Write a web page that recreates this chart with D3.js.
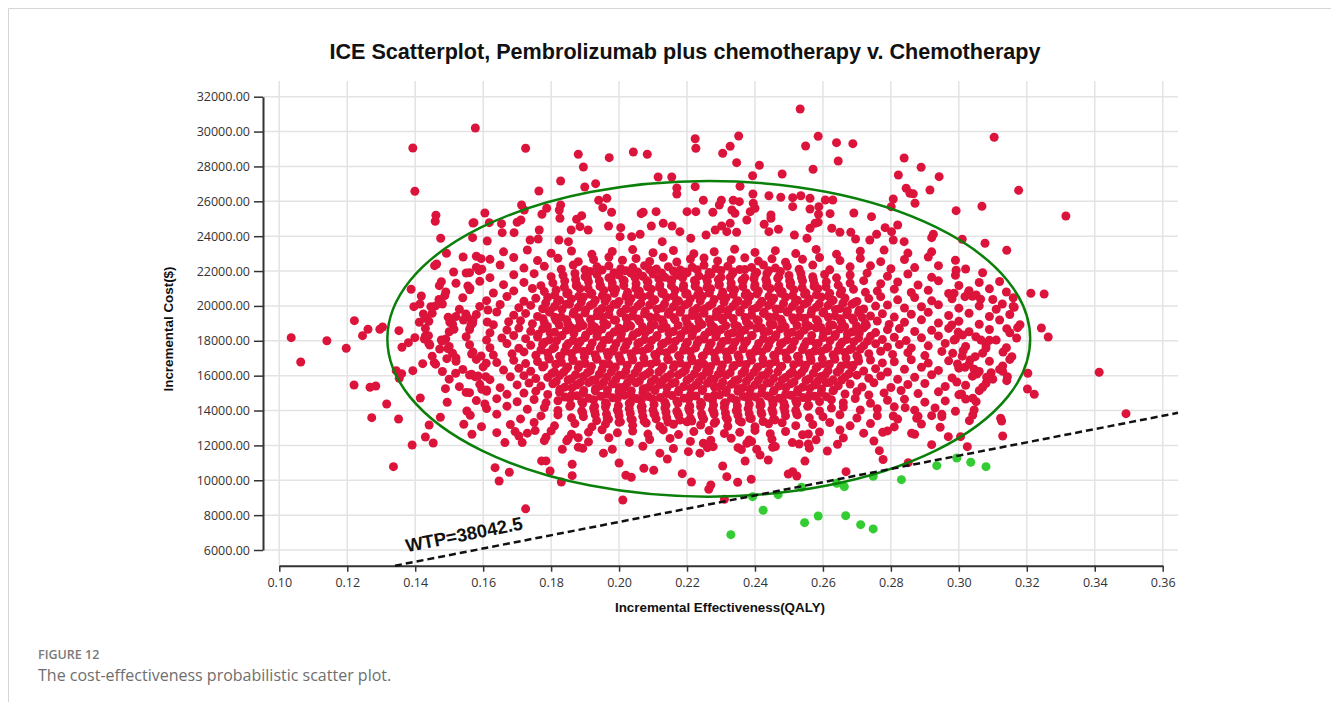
<!DOCTYPE html>
<html>
<head>
<meta charset="utf-8">
<script src="https://cdn.jsdelivr.net/npm/d3@7"></script>
<style>
  body { margin: 0; background: #fff; }
  svg { display: block; }
</style>
</head>
<body>
<svg width="1331" height="702"></svg>
<script>
(function (d3) {
  'use strict';

// ---- data ----------------------------------------------------------------
const xTicks = [0.10, 0.12, 0.14, 0.16, 0.18, 0.20, 0.22, 0.24, 0.26, 0.28, 0.30, 0.32, 0.34, 0.36];
const yTicks = [6000, 8000, 10000, 12000, 14000, 16000, 18000, 20000, 22000, 24000, 26000, 28000, 30000, 32000];
const wtp = 38042.5;

// 95% ellipse drawn round the cloud (effect, cost)
const ellipseCenter = [0.2264, 18113];
const ellipseRadius = [0.0946, 9052];

// iterations below the WTP line (cost-effective) [effect, cost]
const greenPoints = [
  [.2329,6880],[.2424,8280],[.2393,9060],[.2468,9175],[.2537,9600],[.2546,7570],[.2586,7953],
  [.2667,7970],[.2711,7455],[.2748,7208],[.2641,9830],[.2663,9635],[.2748,10230],[.2831,10035],
  [.2935,10838],[.2994,11280],[.3035,11033],[.3080,10780]
];

// scattered iterations at the edge of the cloud [effect, cost]
const redSparse = [
  [.1577,30205],[.1393,29058],[.1399,26575],[.1461,25198],[.1459,24854],[.1570,24757],[.1605,25330],[.1475,23879],
  [.1569,23914],[.1612,23724],[.1492,23019],[.1541,22807],[.1580,22847],[.1594,22709],[.1457,22308],[.1463,22405],
  [.1513,21947],[.1560,21906],[.1588,22021],[.1596,22101],[.1477,21390],[.1471,21161],[.1555,21144],[.1561,21012],
  [.1388,20954],[.1418,20570],[.1487,20587],[.1396,19956],[.1414,20111],[.1446,19956],[.1473,20301],[.1480,20111],
  [.1424,19538],[.1430,19308],[.1412,19062],[.1497,19348],[.1502,19062],[.1514,18660],[.1549,19538],[.1553,19348],
  [.1542,19194],[.1564,18907],[.1569,19004],[.1614,19767],[.1612,19079],[.1221,19154],[.1261,18660],[.1245,18293],
  [.1296,18660],[.1304,18792],[.1352,18580],[.1035,18178],[.1140,18000],[.1399,18178],[.1439,18293],[.1477,18047],
  [.1197,17571],[.1063,16785],[.1361,17628],[.1380,17892],[.1427,18104],[.1443,17759],[.1479,17989],[.1472,17530],
  [.1496,17548],[.1493,16974],[.1520,17014],[.1422,16688],[.1456,16745],[.1393,16286],[.1344,16286],[.1360,16114],
  [.1353,15850],[.1519,16137],[.1566,17244],[.1594,17129],[.1220,15466],[.1267,15334],[.1284,15409],[.1316,14377],
  [.1272,13591],[.1351,13516],[.1336,10781],[.1415,14721],[.1489,15254],[.1494,14474],[.1474,13614],[.1441,13172],
  [.1430,12484],[.1391,12025],[.1453,12140],[.1560,15025],[.1552,13975],[.1562,13728],[.1543,13212],[.1567,12639],
  [.1595,13075],[.1605,14377],[.1596,15219],[.1610,15179],[.1566,16079],[.1585,15982],[.1608,15942],[.1576,15942],
  [.1609,16711],
  [.1725,29041],[.1880,28697],[.1895,27968],[.1971,28502],[.2042,28829],[.2083,28697],[.2224,29591],[.2226,29041],
  [.2352,29746],[.2327,29155],[.2305,28754],[.2346,28215],[.2413,28066],[.2393,27469],[.1828,27165],[.1764,26592],
  [.1899,26821],[.1931,27011],[.2115,27395],[.2155,27395],[.2170,26764],[.2170,26420],[.2224,26839],[.2356,26861],
  [.2394,26420],[.1713,25789],[.1721,25502],[.1787,25600],[.1828,25789],[.1824,25502],[.1940,26060],[.1964,26173],
  [.1952,25635],[.1978,25370],[.2248,26060],[.2301,26060],[.2336,26060],[.2354,25980],[.2395,25887],[.2400,25600],
  [.1573,24775],[.1618,24775],[.1654,24717],[.1656,24200],[.1691,24200],[.1700,24796],[.1711,24929],[.1765,24356],
  [.1773,25256],[.1826,25025],[.1875,24968],[.1890,25175],[.1885,24545],[.1859,24356],[.1909,24356],[.1969,24585],
  [.2005,24487],[.2065,25290],[.2071,25370],[.2095,24585],[.2109,25405],[.2130,24740],[.2156,24585],[.2200,25405],
  [.2226,25405],[.2276,25370],[.2295,25789],[.2302,24585],[.2283,24356],[.2327,24740],[.2332,25502],[.2341,25313],
  [.2376,24929],[.2386,25405],[.2427,24682],[.2179,24258],[.2003,23971],[.2037,23971],[.2062,24111],[.2127,23684],
  [.2211,23880],[.2256,24069],[.2317,24258],[.2346,24224],[.1738,23780],[.1762,23838],[.1823,23780],[.1851,23685],
  [.2533,31296],[.2586,29729],[.2549,29173],[.2640,29362],[.2688,29306],[.3104,29672],[.2571,27836],[.2645,28312],
  [.2480,27567],[.2839,28485],[.2889,27951],[.2942,27412],[.2822,27510],[.2845,26747],[.2856,26460],[.2866,26430],
  [.2915,26649],[.2871,25886],[.2807,26133],[.2801,25692],[.3176,26630],[.2992,25462],[.3068,25715],[.2441,26322],
  [.2476,26231],[.2511,26208],[.2535,26322],[.2562,26173],[.2607,26076],[.2629,26076],[.2511,25692],[.2562,25560],
  [.2588,25692],[.2587,25256],[.2621,25290],[.2691,25330],[.2743,25118],[.2447,25216],[.2447,25030],[.2469,24395],
  [.2441,24258],[.2516,24069],[.2562,24452],[.2577,24740],[.2586,24796],[.2626,24452],[.2650,24224],[.2682,24224],
  [.2696,23838],[.2758,24111],[.2783,24487],[.2802,24258],[.2820,24642],[.2738,23780],[.2807,23780],[.2839,23684],
  [.2925,24111],[.2920,23914],[.3010,23822],[.3077,23592],[.2553,23880],[.3315,25158],
  [.3141,23191],[.2992,22044],[.2986,20725],[.3018,20530],[.3028,20765],[.3051,20627],[.3064,20381],[.3128,20111],
  [.3163,19923],[.3212,20725],[.3251,20685],[.3141,18695],[.3173,18752],[.3243,18734],[.3263,18220],[.2979,18907],
  [.2998,18488],[.3011,18333],[.2986,18047],[.3065,18047],[.3090,18028],[.3080,17588],[.2982,17284],[.3013,17434],
  [.3048,17090],[.3033,16900],[.3156,17090],[.2996,16670],[.3018,16481],[.3045,16367],[.3053,16097],[.3095,16171],
  [.3082,15907],[.3129,16556],[.3129,16251],[.3143,15942],[.3141,15713],[.3203,16137],[.3413,16194],[.2994,15638],
  [.3070,15334],[.3202,15237],[.3222,14933],[.3008,14950],[.3041,14704],[.3051,14508],[.3045,14032],[.3041,13746],
  [.3031,13419],[.3123,13556],[.3126,13401],[.3129,12540],[.3005,12502],[.3025,11928],[.3492,13820],
  [.2011,8871],[.2310,8910],[.2270,9730],[.2264,9485],[.2213,9903],[.2317,10207],[.2349,9885],[.2389,10058],
  [.2305,10820],[.2186,10380],[.2102,10575],[.2073,10690],[.2036,10173],[.2020,10288],[.2000,10993],[.1862,10265],
  [.1862,10920],[.1830,9903],[.2498,10362],[.2511,10495],[.2523,10247],[.2668,10495],[.2851,11010],[.2777,11190],
  [.2766,11698],[.2547,11100],[.2439,11165],[.2415,11452],[.2371,11107],[.2383,12312],[.2405,11779],[.2452,11893],
  [.2530,12083],[.2557,12083],[.2613,11680],[.2643,12065],[.2920,12042],[.2969,12502],[.2861,12696],[.2876,13556],
  [.2920,13705],[.2950,13648],[.2842,14163],[.2807,13688],[.2776,12753],[.1954,11555],[.2248,12121],[.2238,11555],
  [.2142,11220],[.2120,11555],[.2204,11641],[.2277,11928],[.2350,11870],[.2376,12121],[.2557,12656],[.2945,13040],
  [.1635,10723],[.1647,9960],[.1677,10460],[.1664,12160],[.1640,12730],[.1694,12790],[.1705,12540],[.1715,12160],
  [.1772,11110],[.1785,11110],[.1797,10530],[.1785,12470],[.1753,12850],[.1833,11780],[.1846,12260],[.1880,12440],
  [.1893,11830],[.1725,8360]
];

// the body of the cloud, one band of cost at a time: effects and matching costs
const cloudEffect = [
  [.166,.173,.180,.186,.192,.198,.204,.210,.216,.222,.228,.234,.240,.246,.252,.258,.264,.271,.278,.285,.292],
  [.162,.169,.176,.182,.188,.1925,.197,.201,.205,.209,.213,.217,.221,.225,.229,.233,.237,.241,.245,.249,.254,.259,.265,.271,.277,.284,.291,.299],
  [.158,.165,.172,.178,.183,.1865,.190,.1935,.197,.2005,.204,.2075,.211,.2145,.218,.2215,.225,.2285,.232,.2355,.239,.2425,.246,.2495,.253,.257,.262,.268,.274,.280,.287,.294,.302],
  [.155,.162,.169,.175,.180,.1835,.187,.190,.1935,.197,.200,.2035,.207,.210,.2135,.217,.220,.2235,.227,.230,.2335,.237,.240,.2435,.247,.250,.2535,.257,.2605,.264,.268,.273,.279,.285,.292,.299,.307],
  [.152,.159,.166,.172,.177,.1805,.184,.1875,.191,.1945,.198,.2015,.205,.2085,.212,.2155,.219,.2225,.226,.2295,.233,.2365,.240,.2435,.247,.2505,.254,.2575,.261,.2645,.268,.272,.277,.282,.288,.294,.300,.306,.312],
  [.149,.156,.163,.169,.1745,.178,.1815,.185,.1885,.192,.1955,.199,.2025,.206,.2095,.213,.2165,.220,.2235,.227,.2305,.234,.2375,.241,.2445,.248,.2515,.255,.2585,.262,.2655,.269,.2725,.276,.281,.286,.291,.297,.303,.309,.314],
  [.147,.154,.161,.167,.172,.1755,.179,.1825,.186,.1895,.193,.1965,.200,.2035,.207,.2105,.214,.2175,.221,.2245,.228,.2315,.235,.2385,.242,.2455,.249,.2525,.256,.2595,.263,.2665,.270,.2735,.277,.282,.287,.292,.298,.304,.310,.316],
  [.146,.153,.159,.165,.1705,.174,.1775,.181,.1845,.188,.1915,.195,.1985,.202,.2055,.209,.2125,.216,.2195,.223,.2265,.230,.2335,.237,.2405,.244,.2475,.251,.2545,.258,.2615,.265,.2685,.272,.2755,.279,.284,.289,.294,.300,.306,.311,.316],
  [.145,.152,.158,.164,.169,.1725,.176,.1795,.183,.1865,.190,.1935,.197,.2005,.204,.2075,.211,.2145,.218,.2215,.225,.2285,.232,.2355,.239,.2425,.246,.2495,.253,.2565,.260,.2635,.267,.2705,.274,.2775,.281,.286,.291,.297,.303,.309,.315],
  [.144,.151,.157,.163,.1675,.171,.1745,.178,.1815,.185,.1885,.192,.1955,.199,.2025,.206,.2095,.213,.2165,.220,.2235,.227,.2305,.234,.2375,.241,.2445,.248,.2515,.255,.2585,.262,.2655,.269,.2725,.276,.2795,.284,.289,.294,.300,.306,.312,.318],
  [.143,.150,.156,.162,.167,.1705,.174,.1775,.181,.1845,.188,.1915,.195,.1985,.202,.2055,.209,.2125,.216,.2195,.223,.2265,.230,.2335,.237,.2405,.244,.2475,.251,.2545,.258,.2615,.265,.2685,.272,.2755,.279,.2825,.287,.292,.297,.303,.309,.315],
  [.143,.149,.155,.161,.1655,.169,.1725,.176,.1795,.183,.1865,.190,.1935,.197,.2005,.204,.2075,.211,.2145,.218,.2215,.225,.2285,.232,.2355,.239,.2425,.246,.2495,.253,.2565,.260,.2635,.267,.2705,.274,.2775,.281,.2845,.289,.294,.299,.305,.311,.317],
  [.144,.150,.156,.162,.167,.1705,.174,.1775,.181,.1845,.188,.1915,.195,.1985,.202,.2055,.209,.2125,.216,.2195,.223,.2265,.230,.2335,.237,.2405,.244,.2475,.251,.2545,.258,.2615,.265,.2685,.272,.2755,.279,.2825,.286,.291,.296,.302,.308,.314],
  [.145,.151,.157,.163,.1685,.172,.1755,.179,.1825,.186,.1895,.193,.1965,.200,.2035,.207,.2105,.214,.2175,.221,.2245,.228,.2315,.235,.2385,.242,.2455,.249,.2525,.256,.2595,.263,.2665,.270,.2735,.277,.2805,.285,.290,.295,.301,.307,.313],
  [.146,.152,.158,.164,.169,.1725,.176,.1795,.183,.1865,.190,.1935,.197,.2005,.204,.2075,.211,.2145,.218,.2215,.225,.2285,.232,.2355,.239,.2425,.246,.2495,.253,.2565,.260,.2635,.267,.2705,.274,.2775,.281,.286,.291,.297,.303,.309,.315],
  [.148,.154,.160,.166,.1705,.174,.1775,.181,.1845,.188,.1915,.195,.1985,.202,.2055,.209,.2125,.216,.2195,.223,.2265,.230,.2335,.237,.2405,.244,.2475,.251,.2545,.258,.2615,.265,.2685,.272,.2755,.279,.284,.289,.294,.300,.306,.312],
  [.150,.156,.162,.168,.172,.1755,.179,.1825,.186,.1895,.193,.1965,.200,.2035,.207,.2105,.214,.2175,.221,.2245,.228,.2315,.235,.2385,.242,.2455,.249,.2525,.256,.2595,.263,.2665,.270,.2735,.277,.282,.287,.292,.298,.304,.310],
  [.153,.159,.165,.170,.1735,.177,.1805,.184,.1875,.191,.1945,.198,.2015,.205,.2085,.212,.2155,.219,.2225,.226,.2295,.233,.2365,.240,.2435,.247,.2505,.254,.2575,.261,.2645,.268,.2715,.275,.280,.285,.290,.296,.302,.308],
  [.155,.161,.167,.172,.1755,.179,.1825,.186,.1895,.193,.1965,.200,.2035,.207,.2105,.214,.2175,.221,.2245,.228,.2315,.235,.2385,.242,.2455,.249,.2525,.256,.2595,.263,.2665,.270,.2735,.278,.283,.288,.294,.300,.306],
  [.158,.164,.170,.175,.1785,.182,.1855,.189,.1925,.196,.1995,.203,.2065,.210,.2135,.217,.2205,.224,.2275,.231,.2345,.238,.2415,.245,.2485,.252,.2555,.259,.2625,.266,.2695,.274,.279,.284,.290,.296,.302],
  [.161,.167,.173,.178,.182,.1855,.189,.1925,.196,.1995,.203,.2065,.210,.2135,.217,.2205,.224,.2275,.231,.2345,.238,.2415,.245,.2485,.252,.2555,.259,.2625,.266,.271,.276,.281,.287,.293,.299],
  [.164,.171,.177,.182,.186,.1895,.193,.1965,.200,.2035,.207,.2105,.214,.2175,.221,.2245,.228,.2315,.235,.2385,.242,.2455,.249,.2525,.256,.260,.265,.270,.276,.282,.288,.295],
  [.168,.175,.181,.187,.192,.196,.200,.204,.208,.212,.216,.220,.224,.228,.232,.236,.240,.244,.248,.252,.257,.262,.268,.274,.281,.289],
  [.173,.180,.186,.191,.195,.1995,.204,.2085,.213,.2175,.222,.2265,.231,.2355,.240,.2445,.249,.254,.259,.265,.272,.279,.287],
  [.178,.185,.191,.197,.203,.209,.215,.221,.227,.233,.239,.245,.251,.258,.266,.275],
  [.188,.198,.207,.216,.226,.236,.246,.256]
];
const cloudCost = [
  [23100,23210,23020,23150,22960,23120,23230,23050,23180,22990,23110,23250,23070,23170,23000,23240,22970,23140,23200,23030,23100],
  [22670,22780,22600,22730,22540,22660,22800,22620,22720,22550,22790,22520,22690,22750,22580,22650,22760,22570,22700,22510,22670,22780,22600,22730,22540,22660,22800,22620],
  [22210,22350,22170,22270,22100,22340,22070,22240,22300,22130,22200,22310,22120,22250,22060,22220,22330,22150,22280,22090,22210,22350,22170,22270,22100,22340,22070,22240,22300,22130,22200,22310,22120],
  [21890,21620,21790,21850,21680,21750,21860,21670,21800,21610,21770,21880,21700,21830,21640,21760,21900,21720,21820,21650,21890,21620,21790,21850,21680,21750,21860,21670,21800,21610,21770,21880,21700,21830,21640,21760,21900],
  [21300,21410,21220,21350,21160,21320,21430,21250,21380,21190,21310,21450,21270,21370,21200,21440,21170,21340,21400,21230,21300,21410,21220,21350,21160,21320,21430,21250,21380,21190,21310,21450,21270,21370,21200,21440,21170,21340,21400],
  [20800,20930,20740,20860,21000,20820,20920,20750,20990,20720,20890,20950,20780,20850,20960,20770,20900,20710,20870,20980,20800,20930,20740,20860,21000,20820,20920,20750,20990,20720,20890,20950,20780,20850,20960,20770,20900,20710,20870,20980,20800],
  [20370,20470,20300,20540,20270,20440,20500,20330,20400,20510,20320,20450,20260,20420,20530,20350,20480,20290,20410,20550,20370,20470,20300,20540,20270,20440,20500,20330,20400,20510,20320,20450,20260,20420,20530,20350,20480,20290,20410,20550,20370,20470],
  [20000,19810,19970,20080,19900,20030,19840,19960,20100,19920,20020,19850,20090,19820,19990,20050,19880,19950,20060,19870,20000,19810,19970,20080,19900,20030,19840,19960,20100,19920,20020,19850,20090,19820,19990,20050,19880,19950,20060,19870,20000,19810,19970],
  [19580,19390,19510,19650,19470,19570,19400,19640,19370,19540,19600,19430,19500,19610,19420,19550,19360,19520,19630,19450,19580,19390,19510,19650,19470,19570,19400,19640,19370,19540,19600,19430,19500,19610,19420,19550,19360,19520,19630,19450,19580,19390,19510],
  [19120,18950,19190,18920,19090,19150,18980,19050,19160,18970,19100,18910,19070,19180,19000,19130,18940,19060,19200,19020,19120,18950,19190,18920,19090,19150,18980,19050,19160,18970,19100,18910,19070,19180,19000,19130,18940,19060,19200,19020,19120,18950,19190,18920],
  [18710,18520,18650,18460,18620,18730,18550,18680,18490,18610,18750,18570,18670,18500,18740,18470,18640,18700,18530,18600,18710,18520,18650,18460,18620,18730,18550,18680,18490,18610,18750,18570,18670,18500,18740,18470,18640,18700,18530,18600,18710,18520,18650,18460],
  [18280,18100,18230,18040,18160,18300,18120,18220,18050,18290,18020,18190,18250,18080,18150,18260,18070,18200,18010,18170,18280,18100,18230,18040,18160,18300,18120,18220,18050,18290,18020,18190,18250,18080,18150,18260,18070,18200,18010,18170,18280,18100,18230,18040,18160],
  [17850,17670,17770,17600,17840,17570,17740,17800,17630,17700,17810,17620,17750,17560,17720,17830,17650,17780,17590,17710,17850,17670,17770,17600,17840,17570,17740,17800,17630,17700,17810,17620,17750,17560,17720,17830,17650,17780,17590,17710,17850,17670,17770,17600],
  [17120,17290,17350,17180,17250,17360,17170,17300,17110,17270,17380,17200,17330,17140,17260,17400,17220,17320,17150,17390,17120,17290,17350,17180,17250,17360,17170,17300,17110,17270,17380,17200,17330,17140,17260,17400,17220,17320,17150,17390,17120,17290,17350],
  [16660,16820,16930,16750,16880,16690,16810,16950,16770,16870,16700,16940,16670,16840,16900,16730,16800,16910,16720,16850,16660,16820,16930,16750,16880,16690,16810,16950,16770,16870,16700,16940,16670,16840,16900,16730,16800,16910,16720,16850,16660,16820,16930],
  [16240,16360,16500,16320,16420,16250,16490,16220,16390,16450,16280,16350,16460,16270,16400,16210,16370,16480,16300,16430,16240,16360,16500,16320,16420,16250,16490,16220,16390,16450,16280,16350,16460,16270,16400,16210,16370,16480,16300,16430,16240,16360],
  [15800,16040,15770,15940,16000,15830,15900,16010,15820,15950,15760,15920,16030,15850,15980,15790,15910,16050,15870,15970,15800,16040,15770,15940,16000,15830,15900,16010,15820,15950,15760,15920,16030,15850,15980,15790,15910,16050,15870,15970,15800],
  [15370,15500,15310,15470,15580,15400,15530,15340,15460,15600,15420,15520,15350,15590,15320,15490,15550,15380,15450,15560,15370,15500,15310,15470,15580,15400,15530,15340,15460,15600,15420,15520,15350,15590,15320,15490,15550,15380,15450,15560],
  [15040,15100,14930,15000,15110,14920,15050,14860,15020,15130,14950,15080,14890,15010,15150,14970,15070,14900,15140,14870,15040,15100,14930,15000,15110,14920,15050,14860,15020,15130,14950,15080,14890,15010,15150,14970,15070,14900,15140],
  [14570,14680,14500,14630,14440,14560,14700,14520,14620,14450,14690,14420,14590,14650,14480,14550,14660,14470,14600,14410,14570,14680,14500,14630,14440,14560,14700,14520,14620,14450,14690,14420,14590,14650,14480,14550,14660],
  [14110,14250,14070,14170,14000,14240,13970,14140,14200,14030,14100,14210,14020,14150,13960,14120,14230,14050,14180,13990,14110,14250,14070,14170,14000,14240,13970,14140,14200,14030,14100,14210,14020,14150,13960],
  [13790,13520,13690,13750,13580,13650,13760,13570,13700,13510,13670,13780,13600,13730,13540,13660,13800,13620,13720,13550,13790,13520,13690,13750,13580,13650,13760,13570,13700,13510,13670,13780],
  [13200,13310,13120,13250,13060,13220,13330,13150,13280,13090,13210,13350,13170,13270,13100,13340,13070,13240,13300,13130,13200,13310,13120,13250,13060,13220],
  [12700,12830,12640,12760,12900,12720,12820,12650,12890,12620,12790,12850,12680,12750,12860,12670,12800,12610,12770,12880,12700,12830,12640],
  [12270,12370,12200,12440,12170,12340,12400,12230,12300,12410,12220,12350,12160,12320,12430,12250],
  [11900,11780,11950,11820,11870,11760,11930,11840]
];

// the solid core of the cloud, in bands between the ones above
const coreEffect = [
  [.1915,.1950,.1985,.2020,.2055,.2090,.2125,.2160,.2195,.2230,.2265,.2300,.2335,.2370,.2405,.2440,.2475],
  [.1872,.1907,.1942,.1977,.2012,.2047,.2082,.2117,.2152,.2187,.2222,.2257,.2292,.2327,.2362,.2397,.2432,.2467,.2502,.2537,.2572],
  [.1839,.1874,.1909,.1944,.1979,.2014,.2049,.2084,.2119,.2154,.2189,.2224,.2259,.2294,.2329,.2364,.2399,.2434,.2469,.2504,.2539,.2574,.2609],
  [.1811,.1846,.1881,.1916,.1951,.1986,.2021,.2056,.2091,.2126,.2161,.2196,.2231,.2266,.2301,.2336,.2371,.2406,.2441,.2476,.2511,.2546,.2581,.2616,.2651],
  [.1784,.1819,.1854,.1889,.1924,.1959,.1994,.2029,.2064,.2099,.2134,.2169,.2204,.2239,.2274,.2309,.2344,.2379,.2414,.2449,.2484,.2519,.2554,.2589,.2624,.2659,.2694],
  [.1797,.1832,.1867,.1902,.1937,.1972,.2007,.2042,.2077,.2112,.2147,.2182,.2217,.2252,.2287,.2322,.2357,.2392,.2427,.2462,.2497,.2532,.2567,.2602,.2637,.2672,.2707],
  [.1776,.1811,.1846,.1881,.1916,.1951,.1986,.2021,.2056,.2091,.2126,.2161,.2196,.2231,.2266,.2301,.2336,.2371,.2406,.2441,.2476,.2511,.2546,.2581,.2616,.2651,.2686,.2716],
  [.1789,.1824,.1859,.1894,.1929,.1964,.1999,.2034,.2069,.2104,.2139,.2174,.2209,.2244,.2279,.2314,.2349,.2384,.2419,.2454,.2489,.2524,.2559,.2594,.2629,.2664,.2699,.2728],
  [.1762,.1797,.1832,.1867,.1902,.1937,.1972,.2007,.2042,.2077,.2112,.2147,.2182,.2217,.2252,.2287,.2322,.2357,.2392,.2427,.2462,.2497,.2532,.2567,.2602,.2637,.2672,.2707],
  [.1781,.1816,.1851,.1886,.1921,.1956,.1991,.2026,.2061,.2096,.2131,.2166,.2201,.2236,.2271,.2306,.2341,.2376,.2411,.2446,.2481,.2516,.2551,.2586,.2621,.2656,.2691,.2731],
  [.1770,.1805,.1840,.1875,.1910,.1945,.1980,.2015,.2050,.2085,.2120,.2155,.2190,.2225,.2260,.2295,.2330,.2365,.2400,.2435,.2470,.2505,.2540,.2575,.2610,.2645,.2680,.2710],
  [.1793,.1828,.1863,.1898,.1933,.1968,.2003,.2038,.2073,.2108,.2143,.2178,.2213,.2248,.2283,.2318,.2353,.2388,.2423,.2458,.2493,.2528,.2563,.2598,.2633,.2668,.2703],
  [.1779,.1814,.1849,.1884,.1919,.1954,.1989,.2024,.2059,.2094,.2129,.2164,.2199,.2234,.2269,.2304,.2339,.2374,.2409,.2444,.2479,.2514,.2549,.2584,.2619,.2654,.2689],
  [.1802,.1837,.1872,.1907,.1942,.1977,.2012,.2047,.2082,.2117,.2152,.2187,.2222,.2257,.2292,.2327,.2362,.2397,.2432,.2467,.2502,.2537,.2572,.2607,.2642,.2677],
  [.1815,.1850,.1885,.1920,.1955,.1990,.2025,.2060,.2095,.2130,.2165,.2200,.2235,.2270,.2305,.2340,.2375,.2410,.2445,.2480,.2515,.2550,.2585,.2620,.2655],
  [.1826,.1861,.1896,.1931,.1966,.2001,.2036,.2071,.2106,.2141,.2176,.2211,.2246,.2281,.2316,.2351,.2386,.2421,.2456,.2491,.2526,.2561,.2596,.2631],
  [.1841,.1876,.1911,.1946,.1981,.2016,.2051,.2086,.2121,.2156,.2191,.2226,.2261,.2296,.2331,.2366,.2401,.2436,.2471,.2506,.2541,.2576,.2611],
  [.1858,.1893,.1928,.1963,.1998,.2033,.2068,.2103,.2138,.2173,.2208,.2243,.2278,.2313,.2348,.2383,.2418,.2453,.2488,.2523,.2558],
  [.1893,.1928,.1963,.1998,.2033,.2068,.2103,.2138,.2173,.2208,.2243,.2278,.2313,.2348,.2383,.2418,.2453,.2488,.2523],
  [.1934,.1969,.2004,.2039,.2074,.2109,.2144,.2179,.2214,.2249,.2284,.2319,.2354,.2389,.2424,.2459]
];
const coreCost = [
  [21980,22060,21900,22020,21940,22080,21890,22000,21950,22070,21910,22030,21960,22090,21920,22010,21970],
  [21520,21600,21450,21570,21480,21620,21440,21550,21500,21610,21460,21580,21510,21640,21470,21560,21530,21590,21450,21620,21490],
  [21070,21150,21000,21120,21030,21170,20990,21100,21050,21160,21010,21130,21060,21190,21020,21110,21080,21140,21000,21170,21040,21120,21090],
  [20620,20700,20550,20670,20580,20720,20540,20650,20600,20710,20560,20680,20610,20740,20570,20660,20630,20690,20550,20720,20590,20670,20640,20560,20700],
  [20170,20250,20100,20220,20130,20270,20090,20200,20150,20260,20110,20230,20160,20290,20120,20210,20180,20240,20100,20270,20140,20220,20190,20110,20250,20160,20200],
  [19720,19800,19650,19770,19680,19820,19640,19750,19700,19810,19660,19780,19710,19840,19670,19760,19730,19790,19650,19820,19690,19770,19740,19660,19800,19710,19750],
  [19270,19350,19200,19320,19230,19370,19190,19300,19250,19360,19210,19330,19260,19390,19220,19310,19280,19340,19200,19370,19240,19320,19290,19210,19350,19260,19300,19330],
  [18820,18900,18750,18870,18780,18920,18740,18850,18800,18910,18760,18880,18810,18940,18770,18860,18830,18890,18750,18920,18790,18870,18840,18760,18900,18810,18850,18880],
  [18370,18450,18300,18420,18330,18470,18290,18400,18350,18460,18310,18430,18360,18490,18320,18410,18380,18440,18300,18470,18340,18420,18390,18310,18450,18360,18400,18430],
  [17920,18000,17850,17970,17880,18020,17840,17950,17900,18010,17860,17980,17910,18040,17870,17960,17930,17990,17850,18020,17890,17970,17940,17860,18000,17910,17950,17980],
  [17470,17550,17400,17520,17430,17570,17390,17500,17450,17560,17410,17530,17460,17590,17420,17510,17480,17540,17400,17570,17440,17520,17490,17410,17550,17460,17500,17530],
  [17020,17100,16950,17070,16980,17120,16940,17050,17000,17110,16960,17080,17010,17140,16970,17060,17030,17090,16950,17120,16990,17070,17040,16960,17100,17010,17050],
  [16570,16650,16500,16620,16530,16670,16490,16600,16550,16660,16510,16630,16560,16690,16520,16610,16580,16640,16500,16670,16540,16620,16590,16510,16650,16560,16600],
  [16120,16200,16050,16170,16080,16220,16040,16150,16100,16210,16060,16180,16110,16240,16070,16160,16130,16190,16050,16220,16090,16170,16140,16060,16200,16110],
  [15670,15750,15600,15720,15630,15770,15590,15700,15650,15760,15610,15730,15660,15790,15620,15710,15680,15740,15600,15770,15640,15720,15690,15610,15750],
  [15220,15300,15150,15270,15180,15320,15140,15250,15200,15310,15160,15280,15210,15340,15170,15260,15230,15290,15150,15320,15190,15270,15240,15160],
  [14770,14850,14700,14820,14730,14870,14690,14800,14750,14860,14710,14830,14760,14890,14720,14810,14780,14840,14700,14870,14740,14820,14790],
  [14320,14400,14250,14370,14280,14420,14240,14350,14300,14410,14260,14380,14310,14440,14270,14360,14330,14390,14250,14420,14290],
  [13870,13950,13800,13920,13830,13970,13790,13900,13850,13960,13810,13930,13860,13990,13820,13910,13880,13940,13800],
  [13420,13500,13350,13470,13380,13520,13340,13450,13400,13510,13360,13480,13410,13540,13370,13460]
];

// ---- layout ----------------------------------------------------------------
const svg = d3.select('svg');
const ancho = +svg.attr('width');
const alto = +svg.attr('height');

// plot frame (grid extent) and the pixel spans of the first/last ticks
const plot = { left: 263, right: 1178, top: 81, bottom: 565.7 };
const x = d3.scaleLinear().domain([0.10, 0.36]).range([279.3, 1162.7]);
const y = d3.scaleLinear().domain([6000, 32000]).range([550, 96.7]);
const radio = 4.5;

const labelFont = '"Liberation Sans", Arial, Helvetica, sans-serif';
const tickFont = '"Open Sans", "DejaVu Sans", sans-serif';

// page frame lines
svg.append('path')
    .attr('d', `M8.5,${alto}V8.5H${ancho}`)
    .attr('fill', 'none')
    .attr('stroke', '#d6d6d6');

// grid
const grid = svg.append('g').attr('stroke', '#e3e3e3').attr('stroke-width', 1.5);
grid.selectAll('.vx').data(xTicks).join('line')
    .attr('x1', d => x(d)).attr('x2', d => x(d))
    .attr('y1', plot.top).attr('y2', plot.bottom);
grid.selectAll('.hy').data(yTicks).join('line')
    .attr('x1', plot.left).attr('x2', plot.right)
    .attr('y1', d => y(d)).attr('y2', d => y(d));

// axes
const xAxis = svg.append('g')
    .attr('transform', `translate(0, ${plot.bottom})`)
    .call(d3.axisBottom(x).tickValues(xTicks).tickFormat(d3.format('.2f'))
        .tickSize(6).tickSizeOuter(0).tickPadding(6.5));
const yAxis = svg.append('g')
    .attr('transform', `translate(${plot.left}, 0)`)
    .call(d3.axisLeft(y).tickValues(yTicks).tickFormat(d3.format('.2f'))
        .tickSize(9).tickSizeOuter(0).tickPadding(4));
[xAxis, yAxis].forEach(g => {
  g.attr('font-family', tickFont).attr('font-size', 12.5).attr('color', '#333');
  g.select('.domain').attr('stroke-width', 2);
  g.selectAll('.tick line').attr('stroke-width', 1.5);
});

// points
const bands = (effects, costs) => [].concat(...effects.map((row, i) => d3.zip(row, costs[i])));
const redPoints = redSparse.concat(bands(cloudEffect, cloudCost), bands(coreEffect, coreCost));
svg.append('g').attr('fill', '#dc143c')
  .selectAll('circle').data(redPoints).join('circle')
    .attr('cx', d => x(d[0])).attr('cy', d => y(d[1])).attr('r', radio);
svg.append('g').attr('fill', '#33cc33')
  .selectAll('circle').data(greenPoints).join('circle')
    .attr('cx', d => x(d[0])).attr('cy', d => y(d[1])).attr('r', radio);

// confidence ellipse
svg.append('ellipse')
    .attr('cx', x(ellipseCenter[0]))
    .attr('cy', y(ellipseCenter[1]))
    .attr('rx', x(ellipseCenter[0] + ellipseRadius[0]) - x(ellipseCenter[0]))
    .attr('ry', y(ellipseCenter[1] - ellipseRadius[1]) - y(ellipseCenter[1]))
    .attr('fill', 'none')
    .attr('stroke', '#0a800a')
    .attr('stroke-width', 2.5);

// willingness-to-pay line, cost = wtp * effect, clipped to the frame
const e0 = y.invert(plot.bottom) / wtp;
const e1 = x.invert(plot.right);
svg.append('line')
    .attr('x1', x(e0)).attr('y1', y(wtp * e0))
    .attr('x2', x(e1)).attr('y2', y(wtp * e1))
    .attr('stroke', '#111')
    .attr('stroke-width', 2.5)
    .attr('stroke-dasharray', '7,4');

const angulo = Math.atan2(y(wtp * e1) - y(wtp * e0), x(e1) - x(e0)) * 180 / Math.PI;
const eLabel = 0.1382;
svg.append('text')
    .attr('transform', `translate(${x(eLabel)}, ${y(wtp * eLabel)}) rotate(${angulo})`)
    .attr('dy', -11)
    .attr('font-family', labelFont)
    .attr('font-weight', 'bold')
    .attr('font-size', 18.5)
    .attr('fill', '#111')
    .text(`WTP=${wtp}`);

// titles
svg.append('text')
    .attr('x', 685).attr('y', 59)
    .attr('text-anchor', 'middle')
    .attr('font-family', labelFont).attr('font-weight', 'bold').attr('font-size', 21.6)
    .attr('fill', '#111')
    .text('ICE Scatterplot, Pembrolizumab plus chemotherapy v. Chemotherapy');

svg.append('text')
    .attr('x', 720).attr('y', 612)
    .attr('text-anchor', 'middle')
    .attr('font-family', labelFont).attr('font-weight', 'bold').attr('font-size', 13.4)
    .attr('fill', '#111')
    .text('Incremental Effectiveness(QALY)');

svg.append('text')
    .attr('transform', 'translate(173, 329) rotate(-90)')
    .attr('text-anchor', 'middle')
    .attr('font-family', labelFont).attr('font-weight', 'bold').attr('font-size', 13.4)
    .attr('fill', '#111')
    .text('Incremental Cost($)');

// figure caption
svg.append('text')
    .attr('x', 38).attr('y', 659)
    .attr('font-family', tickFont).attr('font-weight', 600).attr('font-size', 12.5)
    .attr('fill', '#7a7a7a')
    .text('FIGURE 12');
svg.append('text')
    .attr('x', 38).attr('y', 681)
    .attr('font-family', tickFont).attr('font-size', 16)
    .attr('fill', '#6e6e6e')
    .text('The cost-effectiveness probabilistic scatter plot.');

}(d3));
</script>
</body>
</html>
